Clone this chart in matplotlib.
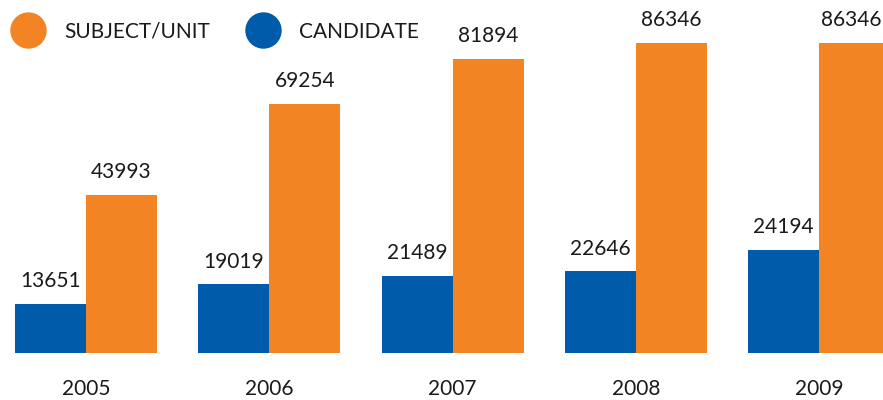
import matplotlib
matplotlib.use("Agg")
import matplotlib.pyplot as plt
from matplotlib.lines import Line2D
import numpy as np

# data
years = ["2005", "2006", "2007", "2008", "2009"]
# bar heights as drawn (the 2009 candidate bar is drawn taller than its label)
candidate = [13651, 19019, 21489, 22646, 28700]
subject_unit = [43993, 69254, 81894, 86346, 86346]
# printed value labels
candidate_labels = ["13651", "19019", "21489", "22646", "24194"]
subject_labels = ["43993", "69254", "81894", "86346", "86346"]

blue = "#005BAA"
orange = "#F28423"
text_color = "#1a1a1a"

plt.rcParams["font.family"] = ["Lato", "DejaVu Sans"]
fs = 15

fig = plt.figure(figsize=(8.83, 4), dpi=100)
ax = fig.add_axes([0, 47.3 / 400, 1, 352.7 / 400])

x = np.arange(len(years))
w = 0.3875
b1 = ax.bar(x - w / 2, candidate, w, color=blue)
b2 = ax.bar(x + w / 2, subject_unit, w, color=orange)

ax.set_xlim(-0.4693, 4.349)
ax.set_ylim(0, 98335)

for bars, vals, labs in ((b1, candidate, candidate_labels),
                         (b2, subject_unit, subject_labels)):
    for rect, v, lab in zip(bars, vals, labs):
        cx = rect.get_x() + rect.get_width() / 2
        ha = "center"
        dx = 0
        if cx + rect.get_width() / 2 > ax.get_xlim()[1]:
            # last bar runs off the edge: keep its label inside
            cx = ax.get_xlim()[1]
            ha = "right"
            dx = -1
        ax.annotate(lab, (cx, v), xytext=(dx, 12.2), textcoords="offset points",
                    ha=ha, va="baseline", fontsize=fs, color=text_color,
                    annotation_clip=False)

ax.set_xticks(x)
ax.set_xticklabels(years, fontsize=fs, color=text_color)
plt.setp(ax.get_xticklabels(), va="baseline")
ax.tick_params(axis="x", length=0, pad=30.2)
ax.set_yticks([])
for s in ax.spines.values():
    s.set_visible(False)
ax.patch.set_visible(False)

handles = [
    Line2D([], [], ls="none", marker="o", markersize=25.2, color=orange, mec=orange),
    Line2D([], [], ls="none", marker="o", markersize=25.2, color=blue, mec=blue),
]
fig.legend(handles, ["SUBJECT/UNIT", "CANDIDATE"], loc="center left",
           bbox_to_anchor=(10 / 883, 1 - 31.7 / 400), ncol=2, frameon=False,
           fontsize=fs, labelcolor=text_color, handlelength=1.68,
           handletextpad=0.91, columnspacing=1.72, borderpad=0,
           borderaxespad=0)

fig.savefig("out.png", dpi=100)
